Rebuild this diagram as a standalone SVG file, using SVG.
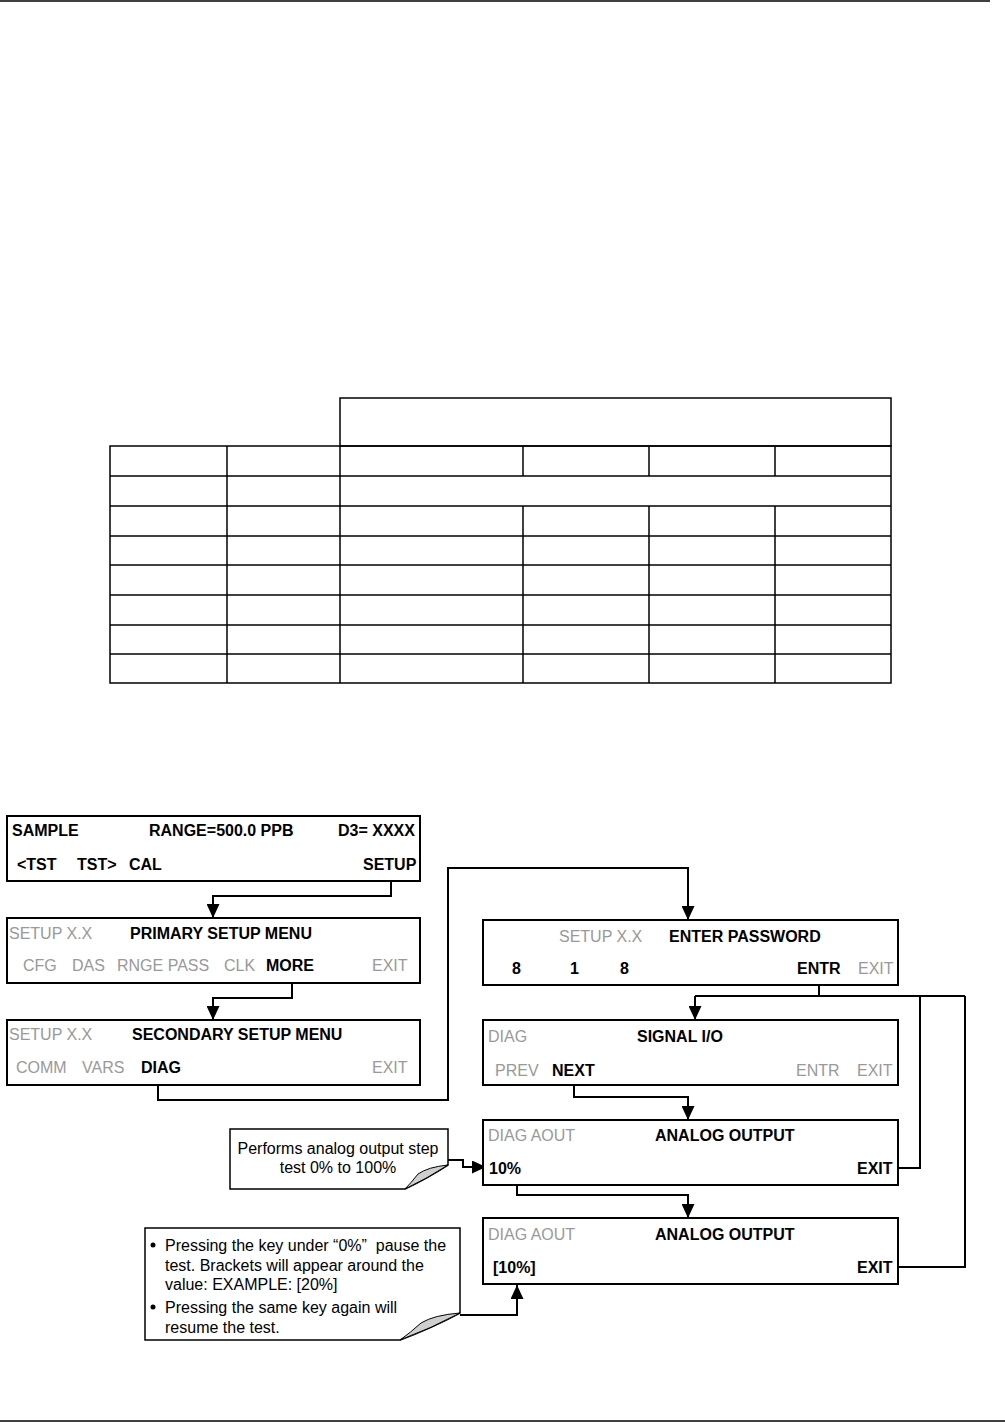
<svg xmlns="http://www.w3.org/2000/svg" width="1005" height="1422" viewBox="0 0 1005 1422">
<style>
.pg{stroke:#000;stroke-width:1.5;fill:none}
.tb{stroke:#000;stroke-width:1.5;fill:none}
.box{stroke:#000;stroke-width:2;fill:#fff}
.c{stroke:#000;stroke-width:2;fill:none}
.b{font-family:"Liberation Sans",Arial,sans-serif;font-weight:bold;font-size:16px;fill:#000}
.g{font-family:"Liberation Sans",Arial,sans-serif;font-size:16px;fill:#999}
.n{font-family:"Liberation Sans",Arial,sans-serif;font-size:16px;fill:#000}
.note{stroke:#000;stroke-width:1.5;fill:#fff}
.fold{stroke:#000;stroke-width:1;fill:#cfcfcf}
</style>
<defs>
<marker id="ah" markerUnits="userSpaceOnUse" markerWidth="15" markerHeight="13" refX="14" refY="6.5" orient="auto">
<path d="M0,0 L14,6.5 L0,13 Z" fill="#000"/>
</marker>
</defs>
<g id="page-rules">
<line class="pg" x1="0" y1="1" x2="990" y2="1"/>
<line class="pg" x1="0" y1="1421" x2="1005" y2="1421"/>
</g>
<g id="table">
<rect class="tb" x="340" y="398" width="551" height="48"/>
<rect class="tb" x="110" y="446" width="781" height="237"/>
<line class="tb" x1="110" y1="476" x2="891" y2="476"/>
<line class="tb" x1="110" y1="506" x2="891" y2="506"/>
<line class="tb" x1="110" y1="536" x2="891" y2="536"/>
<line class="tb" x1="110" y1="565" x2="891" y2="565"/>
<line class="tb" x1="110" y1="595" x2="891" y2="595"/>
<line class="tb" x1="110" y1="625" x2="891" y2="625"/>
<line class="tb" x1="110" y1="654" x2="891" y2="654"/>
<line class="tb" x1="227" y1="446" x2="227" y2="683"/>
<line class="tb" x1="340" y1="446" x2="340" y2="683"/>
<line class="tb" x1="523" y1="446" x2="523" y2="476"/>
<line class="tb" x1="649" y1="446" x2="649" y2="476"/>
<line class="tb" x1="775" y1="446" x2="775" y2="476"/>
<line class="tb" x1="523" y1="506" x2="523" y2="683"/>
<line class="tb" x1="649" y1="506" x2="649" y2="683"/>
<line class="tb" x1="775" y1="506" x2="775" y2="683"/>
</g>
<g id="connectors">
<path class="c" d="M391,881 V896 H213 V918" marker-end="url(#ah)"/>
<path class="c" d="M292,983 V998 H213 V1020" marker-end="url(#ah)"/>
<path class="c" d="M158,1085 V1100 H448 V868 H688 V920" marker-end="url(#ah)"/>
<path class="c" d="M819,985 V996"/>
<path class="c" d="M695,996 H965"/>
<path class="c" d="M695,996 V1020" marker-end="url(#ah)"/>
<path class="c" d="M574,1085 V1097 H688 V1120" marker-end="url(#ah)"/>
<path class="c" d="M517,1185 V1195 H688 V1218" marker-end="url(#ah)"/>
<path class="c" d="M898,1168 H920 V996"/>
<path class="c" d="M898,1267 H965 V996"/>
<path class="c" d="M448,1160 H463 V1167 H486" marker-end="url(#ah)"/>
<path class="c" d="M460,1315 H517 V1285" marker-end="url(#ah)"/>
</g>
<g id="n-sample">
<rect class="box" x="7" y="816" width="413" height="65"/>
<text class="b" x="12" y="836">SAMPLE</text>
<text class="b" x="149" y="836">RANGE=500.0 PPB</text>
<text class="b" x="338" y="836">D3= XXXX</text>
<text class="b" x="17" y="870">&lt;TST</text>
<text class="b" x="77" y="870">TST&gt;</text>
<text class="b" x="129" y="870">CAL</text>
<text class="b" x="363" y="870">SETUP</text>
</g>
<g id="n-primary">
<rect class="box" x="7" y="918" width="413" height="65"/>
<text class="g" x="9" y="939">SETUP X.X</text>
<text class="b" x="130" y="939">PRIMARY SETUP MENU</text>
<text class="g" x="23" y="971">CFG</text>
<text class="g" x="72" y="971">DAS</text>
<text class="g" x="117" y="971">RNGE PASS</text>
<text class="g" x="224" y="971">CLK</text>
<text class="b" x="266" y="971">MORE</text>
<text class="g" x="372" y="971">EXIT</text>
</g>
<g id="n-secondary">
<rect class="box" x="7" y="1020" width="413" height="65"/>
<text class="g" x="9" y="1040">SETUP X.X</text>
<text class="b" x="132" y="1040">SECONDARY SETUP MENU</text>
<text class="g" x="16" y="1073">COMM</text>
<text class="g" x="82" y="1073">VARS</text>
<text class="b" x="141" y="1073">DIAG</text>
<text class="g" x="372" y="1073">EXIT</text>
</g>
<g id="n-password">
<rect class="box" x="483" y="920" width="415" height="65"/>
<text class="g" x="559" y="942">SETUP X.X</text>
<text class="b" x="669" y="942">ENTER PASSWORD</text>
<text class="b" x="512" y="974">8</text>
<text class="b" x="570" y="974">1</text>
<text class="b" x="620" y="974">8</text>
<text class="b" x="797" y="974">ENTR</text>
<text class="g" x="858" y="974">EXIT</text>
</g>
<g id="n-signalio">
<rect class="box" x="483" y="1020" width="415" height="65"/>
<text class="g" x="488" y="1042">DIAG</text>
<text class="b" x="637" y="1042">SIGNAL I/O</text>
<text class="g" x="495" y="1076">PREV</text>
<text class="b" x="552" y="1076">NEXT</text>
<text class="g" x="796" y="1076">ENTR</text>
<text class="g" x="857" y="1076">EXIT</text>
</g>
<g id="n-aout1">
<rect class="box" x="483" y="1120" width="415" height="65"/>
<text class="g" x="488" y="1141">DIAG AOUT</text>
<text class="b" x="655" y="1141">ANALOG OUTPUT</text>
<text class="b" x="489" y="1174">10%</text>
<text class="b" x="857" y="1174">EXIT</text>
</g>
<g id="n-aout2">
<rect class="box" x="483" y="1218" width="415" height="66"/>
<text class="g" x="488" y="1240">DIAG AOUT</text>
<text class="b" x="655" y="1240">ANALOG OUTPUT</text>
<text class="b" x="493" y="1273">[10%]</text>
<text class="b" x="857" y="1273">EXIT</text>
</g>
<g id="n-note1">
<path class="note" d="M230,1129 H448 V1165 Q428,1178 405,1189 H230 Z"/>
<path class="fold" d="M448,1165 Q428,1167 418,1174 Q411,1183 405,1189 Q428,1178 448,1165 Z"/>
<text class="n" x="338" y="1154" text-anchor="middle">Performs analog output step</text>
<text class="n" x="338" y="1173" text-anchor="middle">test 0% to 100%</text>
</g>
<g id="n-note2">
<path class="note" d="M145,1228 H460 V1313 Q432,1328 400,1340 H145 Z"/>
<path class="fold" d="M460,1313 Q434,1315 421,1323 Q410,1333 400,1340 Q432,1328 460,1313 Z"/>
<circle cx="153" cy="1245" r="2.5" fill="#000"/>
<text class="n" x="165" y="1251" xml:space="preserve">Pressing the key under “0%”  pause the</text>
<text class="n" x="165" y="1271">test. Brackets will appear around the</text>
<text class="n" x="165" y="1290">value: EXAMPLE: [20%]</text>
<circle cx="153" cy="1307" r="2.5" fill="#000"/>
<text class="n" x="165" y="1313">Pressing the same key again will</text>
<text class="n" x="165" y="1333">resume the test.</text>
</g>
</svg>
